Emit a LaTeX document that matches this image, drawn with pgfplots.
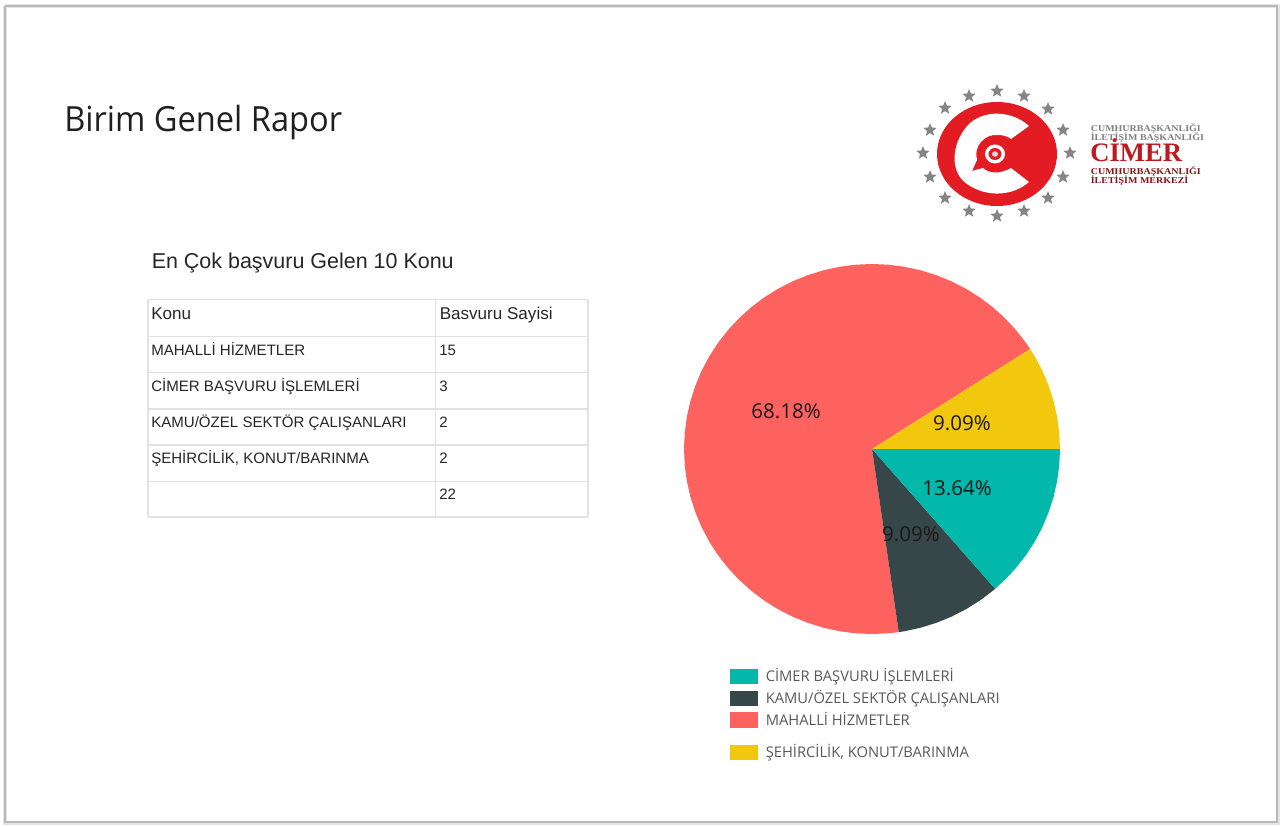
\documentclass[border=0pt]{standalone}
\usepackage{fontspec}
\setmainfont{Liberation Sans}
\newfontfamily\uifont{Open Sans}
\newfontfamily\logofont{Liberation Serif}[BoldFont={Liberation Serif Bold}]
\usepackage{pgfplots}
\pgfplotsset{compat=1.18}

\definecolor{cTeal}{HTML}{01B8AA}
\definecolor{cDark}{HTML}{374649}
\definecolor{cRed}{HTML}{FD625E}
\definecolor{cYellow}{HTML}{F2C80F}
\definecolor{cLogo}{HTML}{E31B23}
\definecolor{cTbl}{HTML}{E2E2E2}

% sizes are given in px of the 1280x825 reference (1px = 0.75pt)
\newcommand{\sz}[1]{\fontsize{#1}{#1}\selectfont}
\newcommand{\tb}[3]{\node[anchor=base west,inner sep=0pt,text=black!85] at (axis cs:#1,#2) {\sz{11.3}#3};}
\newcommand{\lgd}[3]{\node[anchor=base west,inner sep=0pt,text=black!65] at (axis cs:#1,#2) {\uifont\sz{11.05}#3};}
\newcommand{\pct}[3]{\node[anchor=base,inner sep=0pt,text=black!90] at (axis cs:#1,#2) {\uifont\sz{15.4}#3};}
\newcommand{\lgbox}[3]{\addplot[fill=#1,draw=none] coordinates {(730,#2) (758,#2) (758,#3) (730,#3)};}
\newcommand{\lgt}[4]{\node[anchor=base west,inner sep=0pt,xscale=1.12,text=#3] at (axis cs:1090.5,#1) {\logofont\bfseries\sz{6.7}#4};}

\pgfdeclareplotmark{fstar}{%
  \pgfpathmoveto{\pgfqpointpolar{90}{\pgfplotmarksize}}%
  \pgfpathlineto{\pgfqpointpolar{126}{0.45\pgfplotmarksize}}%
  \pgfpathlineto{\pgfqpointpolar{162}{\pgfplotmarksize}}%
  \pgfpathlineto{\pgfqpointpolar{198}{0.45\pgfplotmarksize}}%
  \pgfpathlineto{\pgfqpointpolar{234}{\pgfplotmarksize}}%
  \pgfpathlineto{\pgfqpointpolar{270}{0.45\pgfplotmarksize}}%
  \pgfpathlineto{\pgfqpointpolar{306}{\pgfplotmarksize}}%
  \pgfpathlineto{\pgfqpointpolar{342}{0.45\pgfplotmarksize}}%
  \pgfpathlineto{\pgfqpointpolar{18}{\pgfplotmarksize}}%
  \pgfpathlineto{\pgfqpointpolar{54}{0.45\pgfplotmarksize}}%
  \pgfpathclose\pgfusepathqfill}

\begin{document}
\begin{tikzpicture}
\path[use as bounding box] (0,0) rectangle (960pt,618.75pt);

% page in pixel coordinates
\begin{axis}[
    at={(0pt,0pt)}, anchor=south west,
    scale only axis, width=960pt, height=618.75pt,
    xmin=0, xmax=1280, ymin=0, ymax=825, y dir=reverse,
    hide axis, clip=false,
]
% sheet border
\addplot[draw=black!10,line width=2.6pt] coordinates {(5,6) (1278,6) (1278,823) (5,823) (5,6)};
\addplot[draw=black!28,line width=0.9pt] coordinates {(5,6) (1277,6) (1277,822) (5,822) (5,6)};

\node[anchor=base west,inner sep=0pt,xscale=0.94,text=black!88] at (axis cs:64,131) {\uifont\sz{26}Birim Genel Rapor};
\node[anchor=base west,inner sep=0pt,text=black!85] at (axis cs:151.5,268) {\sz{16.1}En Çok başvuru Gelen 10 Konu};

% table grid
\pgfplotsinvokeforeach{299.5,336.5,372.5,409,445,481.5,517}{
  \addplot[draw=cTbl,line width=1.1pt] coordinates {(148,#1) (588,#1)};
}
\pgfplotsinvokeforeach{148,435.5,588}{
  \addplot[draw=cTbl,line width=1.1pt] coordinates {(#1,299.5) (#1,517)};
}
\node[anchor=base west,inner sep=0pt,text=black!85] at (axis cs:151,319) {\sz{12.8}Konu};
\node[anchor=base west,inner sep=0pt,text=black!85] at (axis cs:439.5,319) {\sz{12.8}Basvuru Sayisi};
\tb{151}{355}{MAHALLİ HİZMETLER}
\tb{151}{391.5}{CİMER BAŞVURU İŞLEMLERİ}
\tb{151}{427}{KAMU/ÖZEL SEKTÖR ÇALIŞANLARI}
\tb{151}{463}{ŞEHİRCİLİK, KONUT/BARINMA}
\tb{439}{355}{15}
\tb{439}{391.5}{3}
\tb{439}{427}{2}
\tb{439}{463}{2}
\tb{439}{499}{22}

% legend
\lgbox{cTeal}{669}{684}
\lgbox{cDark}{691}{706}
\lgbox{cRed}{712}{728}
\lgbox{cYellow}{745}{760}
\lgd{765.5}{681}{CİMER BAŞVURU İŞLEMLERİ}
\lgd{765.5}{703.5}{KAMU/ÖZEL SEKTÖR ÇALIŞANLARI}
\lgd{765.5}{725.5}{MAHALLİ HİZMETLER}
\lgd{765.5}{757.5}{ŞEHİRCİLİK, KONUT/BARINMA}

% logo stars
\addplot[only marks,mark=fstar,mark size=5.2pt,color=black!48] coordinates {
  (997,91) (1024,96) (1048,109) (1063,130) (1070,153) (1063,177) (1048,198) (1024,211)
  (997,216) (969,211) (945,198) (930,177) (923,153) (930,130) (945,108) (969,96)};

% logo wording
\lgt{131}{x}{black!50}{CUMHURBAŞKANLIĞI}
\lgt{140}{x}{black!50}{İLETİŞİM BAŞKANLIĞI}
\node[anchor=base west,inner sep=0pt,text=cLogo!85!black] at (axis cs:1090,161) {\logofont\bfseries\sz{20}CİMER};
\lgt{174}{x}{cLogo!60!black}{CUMHURBAŞKANLIĞI}
\lgt{183}{x}{cLogo!60!black}{İLETİŞİM MERKEZİ}
\end{axis}

% logo emblem, decoration only (px: centre 997,154)
\begin{scope}[shift={(747.75pt,503.25pt)},x=0.75pt,y=0.75pt]
  \fill[cLogo] (0,0) ellipse [x radius=60,y radius=52];
  \fill[white] (32,28) .. controls (12,46) and (-20,44) .. (-33,24)
     .. controls (-47,4) and (-45,-20) .. (-30,-30)
     .. controls (-10,-44) and (16,-42) .. (32,-28)
     -- (14,-14) .. controls (4,-20) and (-8,-20) .. (-14,-14)
     -- (-25,-17) -- (-20,-6) .. controls (-24,8) and (-12,20) .. (0,19)
     .. controls (6,19) and (10,18) .. (14,15) -- cycle;
  \fill[white] (-2,0) ellipse [x radius=10,y radius=9.5];
  \fill[cLogo] (-2,0) ellipse [x radius=6.5,y radius=6];
  \fill[white!85!black] (-2,0) ellipse [x radius=3,y radius=2.8];
\end{scope}

% pie, angles in degrees, radius 1
\begin{axis}[
    at={(654pt,282pt)}, anchor=center,
    scale only axis, width=282pt, height=277.5pt,
    xmin=-1, xmax=1, ymin=-1, ymax=1,
    hide axis, clip=false, data cs=polar,
]
\addplot[fill=cRed,draw=none] coordinates {(0,0) (32.73,1) (35,1) (40,1) (45,1) (50,1) (55,1) (60,1) (65,1) (70,1) (75,1) (80,1) (85,1) (90,1) (95,1) (100,1) (105,1) (110,1) (115,1) (120,1) (125,1) (130,1) (135,1) (140,1) (145,1) (150,1) (155,1) (160,1) (165,1) (170,1) (175,1) (180,1) (185,1) (190,1) (195,1) (200,1) (205,1) (210,1) (215,1) (220,1) (225,1) (230,1) (235,1) (240,1) (245,1) (250,1) (255,1) (260,1) (265,1) (270,1) (275,1) (278.18,1)};
\addplot[fill=cDark,draw=none] coordinates {(0,0) (278.18,1) (280,1) (285,1) (290,1) (295,1) (300,1) (305,1) (310,1) (310.91,1)};
\addplot[fill=cTeal,draw=none] coordinates {(0,0) (310.91,1) (315,1) (320,1) (325,1) (330,1) (335,1) (340,1) (345,1) (350,1) (355,1) (360,1)};
\addplot[fill=cYellow,draw=none] coordinates {(0,0) (0,1) (5,1) (10,1) (15,1) (20,1) (25,1) (30,1) (32.73,1)};
\end{axis}

% pie labels on top
\begin{axis}[
    at={(0pt,0pt)}, anchor=south west,
    scale only axis, width=960pt, height=618.75pt,
    xmin=0, xmax=1280, ymin=0, ymax=825, y dir=reverse,
    hide axis, clip=false,
]
\pct{786}{418}{68.18\%}
\pct{962}{430}{9.09\%}
\pct{957}{495}{13.64\%}
\pct{911}{541}{9.09\%}
\end{axis}
\end{tikzpicture}
\end{document}
